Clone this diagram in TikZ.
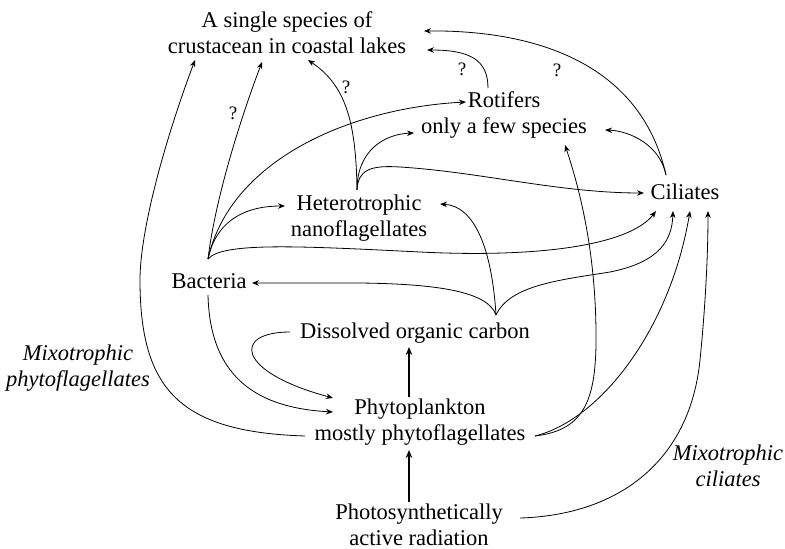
\documentclass[tikz,border=0pt]{standalone}
\usepackage{fontspec}
\setmainfont{Liberation Serif}
\usetikzlibrary{arrows.meta,calc}
\begin{document}
\begin{tikzpicture}[x=1pt,y=-1pt,
  lbl/.style={align=center,inner sep=0pt,font=\fontsize{22.5}{26}\selectfont},
  ital/.style={align=center,inner sep=0pt,font=\fontsize{22.5}{26}\selectfont\itshape},
  link/.style={line width=0.8pt,-{Stealth[length=7pt,width=5.5pt]}},
  boldlink/.style={line width=1.4pt,-{Stealth[length=8pt,width=6.5pt]}},
  plain/.style={line width=0.8pt},
  qmark/.style={inner sep=0pt,font=\fontsize{19}{22}\selectfont}]
\useasboundingbox (0,0) rectangle (785,549);

% nodes
\node[lbl] (crus) at (287,33) {A single species of\\crustacean in coastal lakes};
\node[lbl] (rot) at (504,115) {Rotifers\\only a few species};
\node[lbl] (cil) at (685,192) {Ciliates};
\node[lbl] (hnf) at (359,218) {Heterotrophic\\nanoflagellates};
\node[lbl] (bact) at (209,281) {Bacteria};
\node[lbl] (doc) at (415,333) {Dissolved organic carbon};
\node[lbl] (phyto) at (420,422) {Phytoplankton\\mostly phytoflagellates};
\node[lbl] (par) at (419,525) {Photosynthetically\\active radiation};
\node[ital] (mixpf) at (78,368) {Mixotrophic\\phytoflagellates};
\node[ital] (mixcil) at (728,466) {Mixotrophic\\ciliates};

% junction points
\coordinate (bt) at ($(bact)+(-1,-22)$);
\coordinate (bb) at ($(bact)+(-1,14)$);
\coordinate (docb) at ($(doc)+(81,-18)$);
\coordinate (hj) at ($(hnf)+(-2,-28)$);
\coordinate (pr) at ($(phyto)+(115,14)$);
\coordinate (ct) at ($(cil)+(-19,-17)$);

% Mixotrophic phytoflagellates: phyto -> crustacean
\draw[link] ($(phyto)+(-115,14)$) .. controls (180,432) and (140,390) .. (140,280)
   .. controls (140,230) and (165,140) .. ($(crus)+(-92,27)$);

% bacteria -> crustacean (?)
\draw[link] (bt) .. controls (215,200) and (240,120) .. ($(crus)+(-25,29)$);
\node[qmark] (q1) at (233,113) {?};
% bacteria -> rotifers
\draw[link] (bt) .. controls (230,160) and (350,108) .. ($(rot)+(-38,-13)$);
% bacteria -> HNF
\draw[link] (bt) .. controls (215,225) and (240,206) .. ($(hnf)+(-74,-12)$);
% bacteria -> ciliates
\draw[link] (bt) .. controls (222,242) and (300,246) .. (420,252)
   .. controls (540,258) and (630,245) .. ($(cil)+(-29,19)$);
% bacteria -> phytoplankton
\draw[link] (bb) .. controls (210,380) and (260,408) .. ($(phyto)+(-87,-10)$);

% DOC branch
\draw[link] (docb) .. controls (488,292) and (440,284) .. (360,283) -- ($(bact)+(43,2)$);
\draw[link] (docb) .. controls (492,250) and (475,206) .. ($(hnf)+(81,-14)$);
\draw[link] (docb) .. controls (510,285) and (560,280) .. (610,272)
   .. controls (660,262) and (672,240) .. ($(cil)+(-12,19)$);
% DOC -> phytoplankton loop
\draw[link] ($(doc)+(-125,-1)$) .. controls (232,332) and (236,372) .. ($(phyto)+(-87,-24)$);

% phytoplankton -> DOC, PAR -> phytoplankton
\draw[boldlink] ($(phyto)+(-11,-25)$) -- ($(doc)+(-6,14)$);
\draw[boldlink] ($(par)+(-10,-23)$) -- ($(phyto)+(-11,28)$);

% phyto -> rotifers, phyto -> ciliates
\draw[link] (pr) .. controls (585,430) and (597,400) .. (596,330)
   .. controls (595,250) and (580,190) .. ($(rot)+(61,30)$);
\draw[link] (pr) .. controls (600,420) and (670,330) .. ($(cil)+(5,19)$);

% Mixotrophic ciliates: PAR -> ciliates
\draw[link] ($(par)+(101,-7)$) .. controls (620,515) and (690,460) .. (700,360)
   .. controls (706,300) and (708,250) .. ($(cil)+(23,19)$);

% HNF outputs
\draw[link] (hj) .. controls (356,120) and (345,85) .. ($(crus)+(21,27)$);
\node[qmark] (q2) at (346,87) {?};
\draw[link] (hj) .. controls (357,150) and (385,134) .. ($(rot)+(-90,18)$);
\draw[link] (hj) .. controls (358,170) and (370,165) .. (400,167)
   .. controls (480,172) and (560,193) .. ($(cil)+(-41,1)$);

% rotifers -> crustacean
\draw[link] ($(rot)+(-16,-27)$) .. controls (488,60) and (470,50) .. ($(crus)+(140,17)$);
\node[qmark] (q3) at (462,69) {?};

% ciliates -> crustacean, ciliates -> rotifers
\draw[link] (ct) .. controls (640,60) and (530,30) .. ($(crus)+(137,-2)$);
\node[qmark] (q4) at (557,70) {?};
\draw[link] (ct) .. controls (660,145) and (630,131) .. ($(rot)+(101,15)$);
\end{tikzpicture}
\end{document}
